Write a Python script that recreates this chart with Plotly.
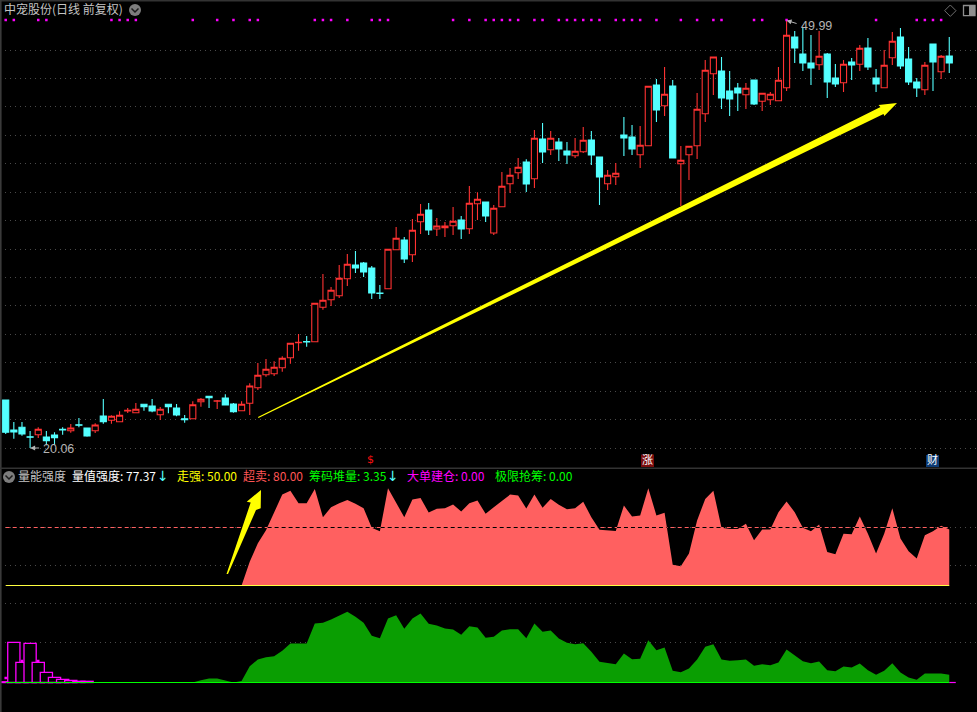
import numpy as np
import plotly.graph_objects as go

W, H = 977, 712
DIV = 468  # pixel row of the pane divider

open_ = [23.42,21.32,21.51,20.84,20.99,20.83,20.97,21.37,21.27,21.69,
21.46,21.27,22.30,22.00,21.90,22.65,22.53,23.12,23.00,22.39,
23.12,22.86,22.11,22.11,23.30,23.68,23.33,23.56,23.14,22.67,
23.19,24.28,25.19,25.26,25.68,26.38,27.43,27.51,27.50,29.91,
30.44,30.72,31.91,32.87,33.01,32.66,30.90,31.21,33.94,34.62,
33.59,35.90,36.72,35.39,35.48,35.62,36.02,35.41,37.16,37.28,
35.11,36.95,38.56,39.33,40.08,38.91,41.69,40.94,41.48,40.85,
40.52,40.80,41.62,40.43,38.56,39.05,41.97,41.83,40.59,41.22,
45.47,44.02,45.40,39.96,40.59,41.22,43.46,46.26,46.45,45.05,
45.26,44.79,45.82,44.33,44.44,44.37,45.28,48.83,47.64,47.01,
46.89,47.64,45.96,45.63,47.08,46.92,48.06,45.96,45.28,47.38,
48.83,47.29,45.68,45.14,48.34,46.40,47.50]
close = [21.16,21.18,21.04,20.82,21.37,20.57,20.78,21.32,21.46,21.65,
20.90,21.67,21.90,22.28,22.35,22.70,22.77,22.95,22.65,22.77,
22.95,22.37,22.04,23.09,23.47,23.58,23.37,23.07,22.60,23.12,
24.40,25.15,25.57,25.71,26.34,27.39,27.46,27.49,30.19,30.40,
31.10,31.94,32.92,32.66,32.38,30.91,30.87,33.97,34.74,33.29,
35.30,36.42,35.32,35.60,35.60,35.93,35.39,37.19,37.47,36.30,
36.84,38.38,39.15,39.71,38.54,41.74,40.78,41.74,40.99,40.57,
40.83,41.60,40.57,39.03,39.15,39.29,41.76,40.99,41.25,45.38,
43.72,44.82,40.36,40.20,41.18,43.77,46.50,47.43,44.56,44.49,
44.91,45.24,44.14,44.89,44.82,45.80,48.95,48.06,47.01,46.66,
47.48,45.68,45.54,46.92,46.87,48.04,46.73,45.54,46.85,48.53,
46.80,45.68,45.26,46.85,47.08,47.48,47.01]
high = [23.42,21.88,21.88,21.25,21.51,21.25,21.16,21.51,21.74,22.16,
21.46,21.79,23.49,22.35,22.63,22.86,23.21,23.12,23.49,22.93,
23.12,23.14,22.37,23.33,23.56,23.68,23.42,23.82,23.21,23.33,
24.59,26.01,26.29,26.13,26.48,27.39,28.04,27.90,30.19,32.24,
31.33,32.87,33.64,33.85,33.08,32.80,31.47,33.97,35.53,34.83,
36.09,37.14,37.21,36.16,35.88,36.93,36.30,38.40,37.96,37.28,
37.07,39.38,39.66,40.36,40.27,42.32,42.81,42.25,41.76,41.48,
41.76,42.53,42.25,40.43,39.52,40.01,43.23,42.67,42.60,45.38,
45.89,46.73,45.82,41.20,41.18,44.91,47.22,47.43,47.43,46.45,
45.61,45.61,45.82,44.91,44.98,46.73,49.99,49.25,49.53,48.97,
49.25,47.71,46.94,47.22,47.36,48.27,48.76,46.59,47.92,49.18,
49.46,48.13,45.96,47.08,48.34,47.57,48.83]
low = [21.04,20.71,20.92,20.06,20.76,20.25,20.29,20.99,21.13,21.51,
20.85,21.11,21.76,21.76,21.90,22.51,22.53,22.67,22.56,22.02,
22.49,22.28,21.83,22.11,22.95,22.86,22.79,23.05,22.53,22.67,
22.37,24.12,25.05,25.10,25.40,25.96,26.87,27.15,27.50,29.74,
30.00,30.56,31.40,32.31,32.03,30.49,30.49,31.21,33.94,33.01,
33.08,35.04,34.97,34.90,34.83,34.97,34.69,35.04,36.02,35.88,
34.97,36.95,37.91,38.89,37.98,38.26,40.01,40.57,40.15,39.94,
40.36,40.71,39.87,37.07,38.12,38.47,40.50,40.57,39.66,41.22,
42.88,43.30,40.36,37.00,38.82,40.29,42.88,44.77,43.79,43.30,
43.65,43.79,44.07,43.65,44.07,44.37,45.05,47.01,46.45,45.47,
46.52,44.56,45.33,44.98,45.82,46.45,46.52,44.98,45.28,46.87,
46.59,45.47,44.63,44.77,45.05,45.89,46.31]
signal_days = [0,1,4,5,13,14,15,16,23,26,28,30,31,38,39,40,42,45,46,47,55,57,59,60,61,62,63,65,66,
68,69,70,71,72,73,75,76,77,78,80,83,85,87,88,92,93,96,107,112,113,114,115]
signal_level = 50.02
price_grid = [47.92,45.93,43.94,41.95,39.96,37.97,35.98,33.99,32.00,30.01,28.02,26.03,24.04,22.05,20.06]

strength = [0]*30 + [32.61,58.23,76.04,99.74,125.36,130.84,113.44,113.44,133.16,94.26,
107.96,113.44,118.09,112.61,106.59,79.73,74.67,133.99,114.81,94.26,
118.51,120.83,100.70,105.76,106.59,111.66,102.07,113.44,117.14,98.91,
107.96,117.14,125.36,123.99,106.18,125.36,107.13,119.46,111.24,105.22,
106.59,115.35,94.26,76.99,76.04,75.08,110.29,95.22,96.59,133.99,
96.59,100.28,28.50,26.72,44.11,89.74,119.46,130.84,79.73,77.82,
77.82,85.21,62.34,77.41,77.41,101.11,115.77,101.11,79.73,74.67,
84.26,46.31,43.16,71.51,70.56,95.22,71.51,44.11,71.51,106.59,
64.66,47.27,37.26,69.19,74.67,82.47,77.37]
oversold = 80
strength_grid = [80, 28.1, -25.3, -78.8]

chips = [0]*24 + [4.6,8,8,4.6,0,3,32.6,46,50.6,52.6,63.4,78,78,78,118,119.4,
126,134,141.4,131.4,119.4,93.4,88.6,128,134.6,107.4,
128,138,117.4,114,108,106,95.4,112.6,110,89.4,
91.4,104,106.6,106.6,88.6,118,101.4,104,88,79.4,
76.6,78.6,61.4,41.4,39.4,36.6,58,46.6,47.4,84.6,
64.6,70,23.4,20.6,28,46,71.4,76.6,46,43.4,
44.6,46,33.4,36.6,34.6,40,66,54.6,42.6,38.6,
42,24.6,22.6,32,30,38,24.6,15.4,23.4,38.6,
20,10,5.4,18,18,18,15.4]
bar_days = [0,1,2,3,4,5,6,7,8,9,10]
bar_values = [1.5,80.4,40.4,78.4,40.4,20.4,10.4,6.4,4.4,2.4,2.4]
tick_days = [0,2,4]
tick_values = [9,43,43]
stub_days = [-0.4,0,116,116.8]

n = len(open_)
days = list(range(n))
PAD_L, PAD_R = -0.7008, 119.41

def px(x): return x / W
def py(y): return 1 - y / H
def price_at(y): return 51.42 - 0.07 * y
def str_at(y): return 1.3793 * (585.5 - y)
def chip_at(y): return 2 * (682.5 - y)

CJK = "Noto Sans CJK SC"
LAT = "Liberation Sans"
RED, CYAN = "#ff3232", "#54ffff"

fig = go.Figure()
fig.add_trace(go.Candlestick(
    x=days, open=open_, high=high, low=low, close=close, xaxis="x", yaxis="y",
    increasing=dict(line=dict(color=RED, width=1.1), fillcolor="#000000"),
    decreasing=dict(line=dict(color=CYAN, width=1.1), fillcolor=CYAN),
    whiskerwidth=0, hoverinfo="skip"))
fig.add_trace(go.Scatter(x=signal_days, y=[signal_level]*len(signal_days), mode="markers", xaxis="x", yaxis="y",
    marker=dict(symbol="square", size=2.5, color="#ff00ff", line=dict(width=0)), hoverinfo="skip"))

# strength pane
fig.add_trace(go.Scatter(x=[0, n-1], y=[oversold]*2, mode="lines", xaxis="x2", yaxis="y2",
    line=dict(color="#ff6060", width=1, dash="4px,3px"), hoverinfo="skip"))
fig.add_trace(go.Scatter(x=days, y=strength, mode="lines", xaxis="x2", yaxis="y2", fill="tozeroy",
    fillcolor="#ff6060", line=dict(width=0, color="#ff6060"), hoverinfo="skip"))
fine = np.arange(0, n - 1 + 1e-9, 0.05)
mask = np.interp(fine, days, strength) > oversold
fig.add_trace(go.Scatter(x=fine.tolist(), y=[oversold if m else None for m in mask], mode="lines", xaxis="x2", yaxis="y2",
    line=dict(color="#000000", width=1, dash="4px,3px"), connectgaps=False, hoverinfo="skip"))
fig.add_trace(go.Scatter(x=[0, n-1], y=[0, 0], mode="lines", xaxis="x2", yaxis="y2",
    line=dict(color="#ffff40", width=1), hoverinfo="skip"))

# chip pane
fig.add_trace(go.Bar(x=bar_days, y=bar_values, width=1.5, xaxis="x2", yaxis="y3",
    marker=dict(color="#000000", line=dict(color="#ff00ff", width=1.3)), hoverinfo="skip"))
fig.add_trace(go.Scatter(x=tick_days, y=tick_values, mode="markers", xaxis="x2", yaxis="y3",
    marker=dict(symbol="square", size=2.5, color="#ff00ff", line=dict(width=0)), hoverinfo="skip"))
fig.add_trace(go.Scatter(x=days, y=chips, mode="lines", xaxis="x2", yaxis="y3", fill="tozeroy",
    fillcolor="#0a9e02", line=dict(width=0, color="#0a9e02"), hoverinfo="skip"))
fig.add_trace(go.Scatter(x=stub_days[:2], y=[0, 0], mode="lines", xaxis="x2", yaxis="y3",
    line=dict(color="#ff00ff", width=1.2), hoverinfo="skip"))
fig.add_trace(go.Scatter(x=stub_days[2:], y=[0, 0], mode="lines", xaxis="x2", yaxis="y3",
    line=dict(color="#ff00ff", width=1.2), hoverinfo="skip"))
fig.add_trace(go.Scatter(x=[0, n-1], y=[0, 0], mode="lines", xaxis="x2", yaxis="y3",
    line=dict(color="#00ff00", width=1.2), hoverinfo="skip"))

shapes = []
def poly(points, color, line=None, width=0, fill=True):
    path = "M" + " L".join(f"{px(x):.5f},{py(y):.5f}" for x, y in points) + " Z"
    shapes.append(dict(type="path", xref="paper", yref="paper", path=path,
                       fillcolor=color if fill else "rgba(0,0,0,0)",
                       line=dict(color=line or color, width=width), layer="above"))
def rect(x0, y0, x1, y1, color, line=None, width=0):
    shapes.append(dict(type="rect", xref="paper", yref="paper", x0=px(x0), x1=px(x1), y0=py(y0), y1=py(y1),
                       fillcolor=color, line=dict(color=line or color, width=width), layer="above"))
def button(cx, cy):
    shapes.append(dict(type="circle", xref="paper", yref="paper", x0=px(cx-6), x1=px(cx+6), y0=py(cy-6), y1=py(cy+6),
                       fillcolor="#7d7d7d", line=dict(width=0), layer="above"))
    path = f"M{px(cx-3.5):.5f},{py(cy-1.5):.5f} L{px(cx):.5f},{py(cy+2):.5f} L{px(cx+3.5):.5f},{py(cy-1.5):.5f}"
    shapes.append(dict(type="path", xref="paper", yref="paper", path=path,
                       line=dict(color="#1c1c1c", width=1.5), layer="above"))

# frame
rect(0, 0, W, 1.6, "#333333")
rect(0, 0, 1.6, H, "#3a3a3a")
rect(0, 467.5, W, 469, "#333333")
# yellow arrows
poly([(258,417),(258.5,418),(883.5,114),(884.3,116),(897,103),(878.5,105),(880.5,107)], "#ffff00")
poly([(226.5,574),(228,574),(256,510),(260.7,508.3),(261,490),(246.7,501.7),(250.7,502.5)], "#ffff00")
button(135, 10)
button(9, 477)
# top right icons
poly([(950.3,5),(956,10.7),(950.3,16.4),(944.6,10.7)], "rgba(0,0,0,0)", line="#6e6e6e", width=1, fill=False)
rect(969, 6, 975, 15.5, "#8e8e8e")
shapes.append(dict(type="rect", xref="paper", yref="paper", x0=px(963.5), x1=px(975), y0=py(5.5), y1=py(15.7),
                   line=dict(color="#8e8e8e", width=1.3), fillcolor="rgba(0,0,0,0)", layer="above"))
# event badges
rect(641, 454.5, 654, 467, "#7a0c0c")
rect(926, 455, 939, 467, "#0c3a74")

ann = []
def text(x, y, s, color, size=12, family=CJK, anchor="left"):
    ann.append(dict(xref="paper", yref="paper", x=px(x), y=py(y), text=s, showarrow=False,
                    xanchor=anchor, yanchor="middle", font=dict(family=family, size=size, color=color)))

ROW = 475.5
text(2, 9, "中宠股份(日线 前复权)", "#c4c4c4")
text(16, ROW, "量能强度", "#c4c4c4")
text(70, ROW, "量值强度: 77.37", "#ffffff")
text(155, ROW, "↓", CYAN, size=14, family="DejaVu Sans")
text(175, ROW, "走强: 50.00", "#ffff00")
text(241, ROW, "超卖: 80.00", "#ff5555")
text(307, ROW, "筹码堆量: 3.35", "#00ff00")
text(385, ROW, "↓", CYAN, size=14, family="DejaVu Sans")
text(405, ROW, "大单建仓: 0.00", "#ff00ff")
text(493, ROW, "极限抢筹: 0.00", "#00ff00")
text(41, 448.5, "20.06", "#b4b4b4", size=12.5, family=LAT)
text(799, 26.5, "49.99", "#b4b4b4", size=12.5, family=LAT)
text(370, 459.5, "$", "#ff1010", size=11, family="DejaVu Sans", anchor="center")
text(647.5, 459.5, "涨", "#ffffff", size=11, anchor="center")
text(932.5, 459.5, "财", "#ffffff", size=11, anchor="center")

# high / low arrows
ann.append(dict(xref="x", yref="y", x=3, y=20.06, ax=12, ay=0, axref="pixel", ayref="pixel", text=" ", showarrow=True,
                arrowhead=2, arrowwidth=1, arrowsize=1, arrowcolor="#b4b4b4", standoff=0))
ann.append(dict(xref="x", yref="y", x=96, y=49.99, ax=13, ay=4, axref="pixel", ayref="pixel", text=" ", showarrow=True,
                arrowhead=2, arrowwidth=1, arrowsize=1, arrowcolor="#b4b4b4", standoff=0))

split = 1 - DIV / H
hidden = dict(showticklabels=False, ticks="", zeroline=False, showline=False)
grid = dict(showgrid=True, gridcolor="#4a4a4a", gridwidth=1, griddash="1px,4px")
fig.update_layout(
    width=W, height=H, margin=dict(l=0, r=0, t=0, b=0), autosize=False,
    paper_bgcolor="#000000", plot_bgcolor="#000000", showlegend=False,
    boxgap=0.25, boxgroupgap=0, barmode="overlay",
    xaxis=dict(domain=[0, 1], range=[PAD_L, PAD_R], anchor="y", showgrid=False, rangeslider=dict(visible=False), **hidden),
    xaxis2=dict(domain=[0, 1], range=[PAD_L, PAD_R], anchor="y2", showgrid=False, **hidden),
    yaxis=dict(domain=[split, 1], range=[price_at(DIV), price_at(0)], anchor="x", tickmode="array", tickvals=price_grid, **grid, **hidden),
    yaxis2=dict(domain=[0, split], range=[str_at(H), str_at(DIV)], anchor="x2", tickmode="array", tickvals=strength_grid, **grid, **hidden),
    yaxis3=dict(domain=[0, split], range=[chip_at(H), chip_at(DIV)], anchor="x2", overlaying="y2", showgrid=False, **hidden),
    shapes=shapes, annotations=ann,
    font=dict(family=CJK),
)
fig.write_html("out.html", config=dict(displayModeBar=False, responsive=False),
               post_script="document.body.style.margin='0';document.body.style.background='#000';document.body.style.overflow='hidden';")
